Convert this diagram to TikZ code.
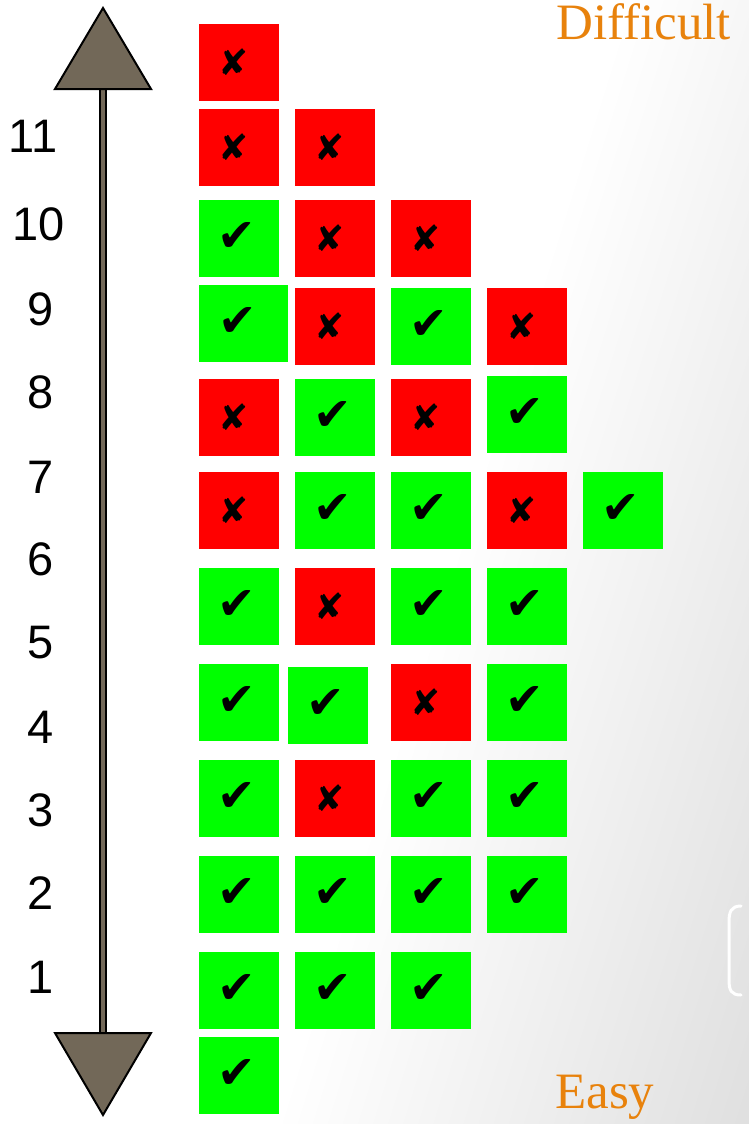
\documentclass[tikz,border=0pt]{standalone}
\usepackage{fontspec}
\setmainfont{Liberation Serif}
\newfontfamily\numfont{Liberation Sans}
\newfontfamily\symfont{DejaVu Sans}
\definecolor{okgreen}{RGB}{0,255,0}
\definecolor{nored}{RGB}{255,0,0}
\definecolor{arrowfill}{RGB}{114,104,88}
\definecolor{lbl}{RGB}{232,130,12}
\newcommand\ck{\hspace*{-4pt}\raisebox{3pt}{\symfont\fontsize{46}{46}\selectfont ✔}}
\newcommand\xk{\hspace*{-10pt}{\symfont\fontsize{36}{36}\selectfont ✘}}
\begin{document}
\begin{tikzpicture}[x=1pt,y=-1pt,
  cell/.style={minimum width=80pt, minimum height=77pt, inner sep=0pt, outer sep=0pt, anchor=north west},
  gcell/.style={cell, fill=okgreen},
  rcell/.style={cell, fill=nored},
  num/.style={font=\numfont\fontsize{47}{47}\selectfont, inner sep=0pt},
  axisbody/.style={fill=arrowfill, draw=black, line width=2pt, line join=miter},
  level/.style={font=\fontsize{51}{51}\selectfont, text=lbl, inner sep=0pt, anchor=base west}]
\useasboundingbox (0,0) rectangle (749,1124);
% background gradient
\begin{scope}
  \clip (0,0) rectangle (749,1124);
  \fill[white] (0,0) rectangle (749,1124);
  \begin{scope}[transform canvas={rotate=-17.35}]
    \shade[left color=white, right color=gray!26] (597,-1500) rectangle (1074,1500);
    \fill[gray!26] (1073,-1500) rectangle (1500,1500);
  \end{scope}
\end{scope}
% bracket at right
\draw[white, line width=3pt, line cap=round] (741,906) .. controls (731,906) and (729,912) .. (729,922) -- (729,980) .. controls (729,990) and (731,995) .. (741,995);
% vertical axis
\draw[axisbody] (100,85) rectangle (106,1037);
\draw[axisbody] (103,8) -- (151,89) -- (55,89) -- cycle;
\draw[axisbody] (103,1115) -- (151,1033) -- (55,1033) -- cycle;
% level labels
\node[level] (diff) at (556,40) {\addfontfeatures{Ligatures=NoCommon}Difficult};
\node[level] (easy) at (555,1108) {Easy};
% row numbers
\node[num] (n11) at (33,136) {11};
\node[num] (n10) at (39,224) {10};
\node[num] (n9) at (41,309) {9};
\node[num] (n8) at (41,392) {8};
\node[num] (n7) at (41,477) {7};
\node[num] (n6) at (41,559) {6};
\node[num] (n5) at (41,643) {5};
\node[num] (n4) at (41,727) {4};
\node[num] (n3) at (41,810) {3};
\node[num] (n2) at (41,893) {2};
\node[num] (n1) at (41,977) {1};
% row 0
\node[rcell] (r0c1) at (199,24) {\xk};
% row 1
\node[rcell] (r1c1) at (199,109) {\xk};
\node[rcell] (r1c2) at (295,109) {\xk};
% row 2
\node[gcell] (r2c1) at (199,200) {\ck};
\node[rcell] (r2c2) at (295,200) {\xk};
\node[rcell] (r2c3) at (391,200) {\xk};
% row 3
\node[gcell, minimum width=89pt] (r3c1) at (199,285) {\hspace*{-8pt}\ck};
\node[rcell] (r3c2) at (295,288) {\xk};
\node[gcell] (r3c3) at (391,288) {\ck};
\node[rcell] (r3c4) at (487,288) {\xk};
% row 4
\node[rcell] (r4c1) at (199,379) {\xk};
\node[gcell] (r4c2) at (295,379) {\ck};
\node[rcell] (r4c3) at (391,379) {\xk};
\node[gcell] (r4c4) at (487,376) {\ck};
% row 5
\node[rcell] (r5c1) at (199,472) {\xk};
\node[gcell] (r5c2) at (295,472) {\ck};
\node[gcell] (r5c3) at (391,472) {\ck};
\node[rcell] (r5c4) at (487,472) {\xk};
\node[gcell] (r5c5) at (583,472) {\ck};
% row 6
\node[gcell] (r6c1) at (199,568) {\ck};
\node[rcell] (r6c2) at (295,568) {\xk};
\node[gcell] (r6c3) at (391,568) {\ck};
\node[gcell] (r6c4) at (487,568) {\ck};
% row 7
\node[gcell] (r7c1) at (199,664) {\ck};
\node[gcell] (r7c2) at (288,667) {\ck};
\node[rcell] (r7c3) at (391,664) {\xk};
\node[gcell] (r7c4) at (487,664) {\ck};
% row 8
\node[gcell] (r8c1) at (199,760) {\ck};
\node[rcell] (r8c2) at (295,760) {\xk};
\node[gcell] (r8c3) at (391,760) {\ck};
\node[gcell] (r8c4) at (487,760) {\ck};
% row 9
\node[gcell] (r9c1) at (199,856) {\ck};
\node[gcell] (r9c2) at (295,856) {\ck};
\node[gcell] (r9c3) at (391,856) {\ck};
\node[gcell] (r9c4) at (487,856) {\ck};
% row 10
\node[gcell] (r10c1) at (199,952) {\ck};
\node[gcell] (r10c2) at (295,952) {\ck};
\node[gcell] (r10c3) at (391,952) {\ck};
% row 11
\node[gcell] (r11c1) at (199,1037) {\ck};
\end{tikzpicture}
\end{document}
